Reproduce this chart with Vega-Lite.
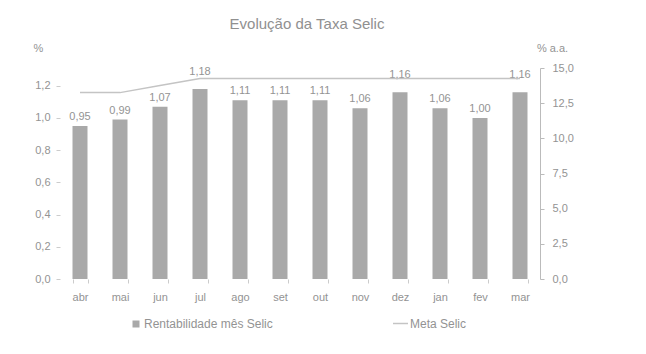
{
  "$schema": "https://vega.github.io/schema/vega-lite/v6.json",
  "width": 480,
  "height": 211,
  "autosize": {"type": "none"},
  "padding": {"left": 60, "top": 68, "right": 106, "bottom": 75},
  "background": "white",
  "title": {
    "text": "Evolução da Taxa Selic",
    "frame": "group",
    "anchor": "middle",
    "offset": 10,
    "dx": 7,
    "fontSize": 15,
    "font": "Liberation Sans",
    "fontWeight": "normal",
    "color": "#909090"
  },
  "data": {
    "values": [
      {"mes": "abr", "rent": 0.95, "meta": 13.25},
      {"mes": "mai", "rent": 0.99, "meta": 13.25},
      {"mes": "jun", "rent": 1.07, "meta": 13.75},
      {"mes": "jul", "rent": 1.18, "meta": 14.25},
      {"mes": "ago", "rent": 1.11, "meta": 14.25},
      {"mes": "set", "rent": 1.11, "meta": 14.25},
      {"mes": "out", "rent": 1.11, "meta": 14.25},
      {"mes": "nov", "rent": 1.06, "meta": 14.25},
      {"mes": "dez", "rent": 1.16, "meta": 14.25},
      {"mes": "jan", "rent": 1.06, "meta": 14.25},
      {"mes": "fev", "rent": 1.00, "meta": 14.25},
      {"mes": "mar", "rent": 1.16, "meta": 14.25}
    ]
  },
  "encoding": {
    "x": {
      "field": "mes",
      "type": "ordinal",
      "sort": null,
      "scale": {"paddingInner": 0.625, "paddingOuter": 0.3125},
      "axis": {
        "title": null,
        "labelAngle": 0,
        "domain": false,
        "ticks": true,
        "tickBand": "extent",
        "tickSize": 4,
        "tickColor": "#cccccc",
        "labelPadding": 8,
        "labelFontSize": 11,
        "labelFont": "Liberation Sans",
        "labelColor": "#939393"
      }
    }
  },
  "layer": [
    {
      "encoding": {
        "y": {
          "field": "rent",
          "type": "quantitative",
          "scale": {"domain": [0, 1.31], "nice": false},
          "axis": {
            "orient": "left",
            "title": "%",
            "titleAngle": 0,
            "titleX": -22,
            "titleY": -20,
            "titleAlign": "center",
            "titleBaseline": "middle",
            "titleFont": "Liberation Sans",
            "titleFontSize": 11,
            "titleFontWeight": "normal",
            "titleColor": "#939393",
            "values": [0, 0.2, 0.4, 0.6, 0.8, 1.0, 1.2],
            "format": ".1f",
            "grid": false,
            "domain": false,
            "tickSize": 4,
            "tickColor": "#cccccc",
            "labelPadding": 6,
            "labelFontSize": 11,
            "labelFont": "Liberation Sans",
            "labelColor": "#939393"
          }
        }
      },
      "layer": [
        {
          "mark": {"type": "bar"},
          "encoding": {
            "fill": {
              "datum": "Rentabilidade mês Selic",
              "scale": {"range": ["#a9a9a9"]},
              "legend": {
                "orient": "none",
                "legendX": 70,
                "legendY": 250,
                "title": null,
                "symbolType": "square",
                "symbolSize": 49,
                "labelOffset": 2,
                "labelFontSize": 12,
                "labelFont": "Liberation Sans",
                "labelColor": "#939393"
              }
            }
          }
        },
        {
          "transform": [{"filter": "datum.rent < 1.15"}],
          "mark": {"type": "text", "baseline": "bottom", "dy": -4, "fontSize": 11, "font": "Liberation Sans", "color": "#939393"},
          "encoding": {"text": {"field": "rent", "type": "quantitative", "format": ".2f"}}
        },
        {
          "transform": [{"filter": "datum.rent >= 1.15"}],
          "mark": {"type": "text", "baseline": "bottom", "dy": -12, "fontSize": 11, "font": "Liberation Sans", "color": "#939393"},
          "encoding": {"text": {"field": "rent", "type": "quantitative", "format": ".2f"}}
        }
      ]
    },
    {
      "mark": {"type": "line", "strokeWidth": 1.5},
      "encoding": {
        "y": {
          "field": "meta",
          "type": "quantitative",
          "scale": {"domain": [0, 15], "nice": false},
          "axis": {
            "orient": "right",
            "title": "% a.a.",
            "titleAngle": 0,
            "titleX": 12,
            "titleY": -20,
            "titleAlign": "center",
            "titleBaseline": "middle",
            "titleFont": "Liberation Sans",
            "titleFontSize": 11,
            "titleFontWeight": "normal",
            "titleColor": "#939393",
            "values": [0, 2.5, 5, 7.5, 10, 12.5, 15],
            "format": ".1f",
            "grid": false,
            "domain": true,
            "domainColor": "#bbbbbb",
            "tickSize": 4,
            "tickColor": "#bbbbbb",
            "labelPadding": 8,
            "labelFontSize": 11,
            "labelFont": "Liberation Sans",
            "labelColor": "#939393"
          }
        },
        "stroke": {
          "datum": "Meta Selic",
          "scale": {"range": ["#c4c4c4"]},
          "legend": {
            "orient": "none",
            "legendX": 332,
            "legendY": 247,
            "title": null,
            "symbolType": "stroke",
            "symbolSize": 225,
            "symbolStrokeWidth": 1.5,
            "labelOffset": 1,
            "labelFontSize": 12,
            "labelFont": "Liberation Sans",
            "labelColor": "#939393"
          }
        }
      }
    }
  ],
  "resolve": {"scale": {"y": "independent"}},
  "config": {
    "locale": {"number": {"decimal": ",", "thousands": ".", "grouping": [3], "currency": ["R$", ""]}},
    "view": {"stroke": null}
  }
}
